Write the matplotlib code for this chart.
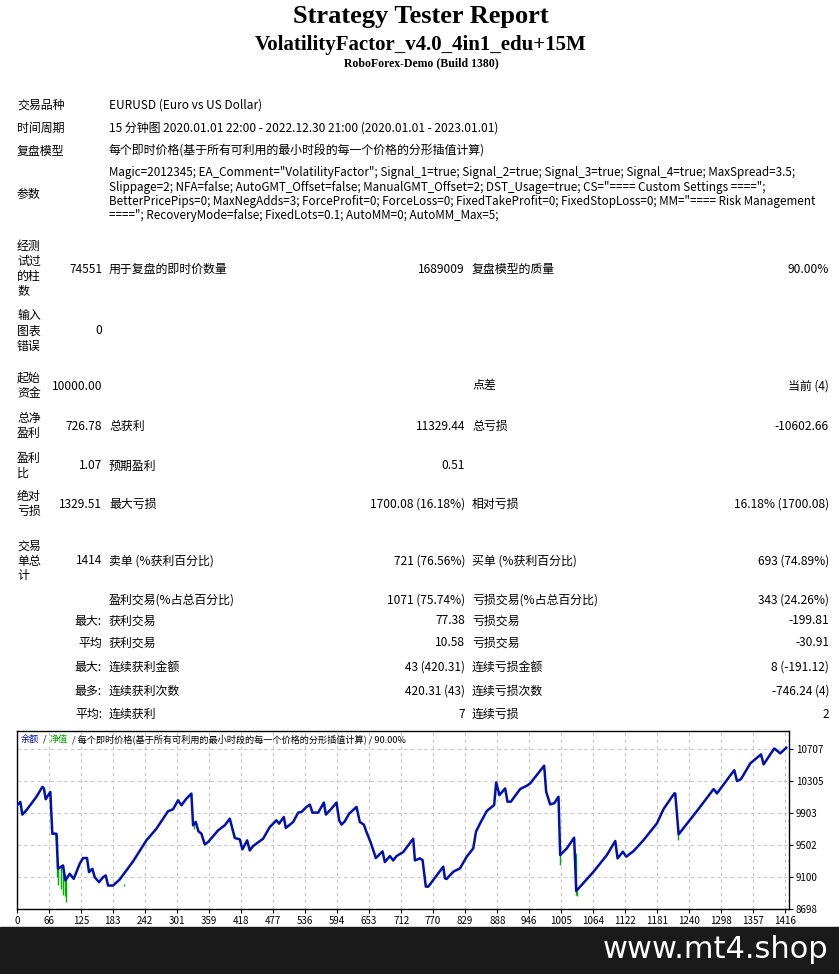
import matplotlib
matplotlib.use("Agg")
import matplotlib.pyplot as plt

CJK = ['Noto Sans CJK SC', 'DejaVu Sans']
plt.rcParams['font.family'] = CJK

# ---------------- data ----------------
trade_x = [7.3, 13.4, 17.1, 24.4, 42.8, 53.8, 56.8, 59.9, 68.4, 72.1, 79.5, 82.5, 91.7, 96, 103.9, 111.3,
           122.3, 128.4, 135.7, 139.4, 145.5, 149.8, 157.7, 165.1, 170, 174.3, 183.4, 195.7, 220.1, 244.6,
           263, 284.3, 293.5, 302.7, 308.8, 318, 327.1, 330.2, 335.1, 340, 345.5, 351.6, 357.7, 376.1,
           388.3, 397.5, 406.7, 415.8, 420.7, 429.3, 434.2, 440.3, 458.6, 470.9, 483.1, 488, 496.6, 500.2,
           513.7, 522.9, 529, 538.2, 544.3, 549.2, 559.6, 570, 573.7, 584, 593.2, 598.1, 602.4, 608.5,
           616.4, 629.9, 636, 643.3, 648.2, 655.6, 665.4, 677.6, 681.9, 691.1, 697.2, 703.3, 715.5, 733.9,
           737, 746.1, 751, 757, 761.5, 770.6, 789, 792, 795, 807.5, 819.7, 832, 844, 849, 856.6, 868.8,
           882.3, 886, 892, 902.5, 906.8, 912.9, 930, 942.3, 948.4, 974, 977.7, 985, 992.4, 1000.3, 1003.4,
           1015.6, 1029, 1032.8, 1040, 1064.6, 1089, 1104.4, 1108.6, 1118.4, 1124.5, 1138, 1156.3, 1180.8,
           1193, 1212.6, 1214.4, 1220.6, 1254.2, 1284.8, 1290.9, 1322.7, 1327.6, 1335, 1352, 1371.6,
           1376.5, 1396, 1407, 1418]
balance = [10001, 10043, 9884, 9938, 10106, 10232, 10211, 10077, 10169, 9644, 9644, 9203, 9245, 9056, 9140,
           9077, 9266, 9338, 9338, 9161, 9203, 9098, 9035, 9098, 9119, 8993, 8993, 9069, 9296, 9560, 9707,
           9926, 9951, 10064, 10001, 10085, 10148, 9749, 9791, 9674, 9644, 9510, 9539, 9686, 9749, 9833,
           9590, 9573, 9447, 9560, 9434, 9489, 9581, 9728, 9812, 9770, 9854, 9716, 9791, 9909, 9917, 9980,
           10010, 9909, 9909, 10035, 9884, 9959, 10035, 9812, 9758, 9800, 9896, 9980, 9791, 9758, 9665,
           9539, 9338, 9422, 9287, 9363, 9308, 9363, 9413, 9581, 9308, 9334, 9313, 8979, 8979, 9062, 9230,
           9083, 9075, 9167, 9209, 9355, 9460, 9669, 9774, 9929, 10004, 10289, 10129, 10213, 10046, 10046,
           10205, 10247, 10276, 10498, 10171, 10012, 10025, 10109, 9376, 9460, 9594, 8924, 8979, 9167, 9376,
           9552, 9334, 9418, 9355, 9426, 9564, 9774, 9954, 10150, 10150, 9636, 9929, 10205, 10150, 10443,
           10305, 10330, 10527, 10640, 10515, 10715, 10653, 10724]
equity_dip_x = [80, 82, 88, 91, 95, 97, 203, 332, 405, 1003, 1033, 1034, 1220]
equity_dip_low = [9100, 9000, 8950, 8880, 8860, 8780, 8990, 9700, 9600, 9250, 8880, 8860, 9560]
equity_dip_high = [9644, 9203, 9245, 9245, 9120, 9100, 9010, 9749, 9650, 9376, 9400, 8930, 9700]
x_ticks = [0, 66, 125, 183, 242, 301, 359, 418, 477, 536, 594, 653, 712, 770, 829, 888, 946, 1005,
           1064, 1122, 1181, 1240, 1298, 1357, 1416]
y_ticks = [8698, 9100, 9502, 9903, 10305, 10707]

rows_top = [("交易品种", "EURUSD (Euro vs US Dollar)", 105),
            ("时间周期", "15 分钟图 2020.01.01 22:00 - 2022.12.30 21:00 (2020.01.01 - 2023.01.01)", 128),
            ("复盘模型", "每个即时价格(基于所有可利用的最小时段的每一个价格的分形插值计算)", 151)]
params_lines = ['Magic=2012345; EA_Comment="VolatilityFactor"; Signal_1=true; Signal_2=true; Signal_3=true; Signal_4=true; MaxSpread=3.5;',
                'Slippage=2; NFA=false; AutoGMT_Offset=false; ManualGMT_Offset=2; DST_Usage=true; CS="==== Custom Settings ====";',
                'BetterPricePips=0; MaxNegAdds=3; ForceProfit=0; ForceLoss=0; FixedTakeProfit=0; FixedStopLoss=0; MM="==== Risk Management',
                '===="; RecoveryMode=false; FixedLots=0.1; AutoMM=0; AutoMM_Max=5;']

# (y, label1, val1, label2, val2, label3, val3)
stats = [
    (269, "经测\n试过\n的柱\n数", "74551", "用于复盘的即时价数量", "1689009", "复盘模型的质量", "90.00%"),
    (331, "输入\n图表\n错误", "0", "", "", "", ""),
    (386, "起始\n资金", "10000.00", "", "", "点差", "当前 (4)"),
    (426, "总净\n盈利", "726.78", "总获利", "11329.44", "总亏损", "-10602.66"),
    (466, "盈利\n比", "1.07", "预期盈利", "0.51", "", ""),
    (504, "绝对\n亏损", "1329.51", "最大亏损", "1700.08 (16.18%)", "相对亏损", "16.18% (1700.08)"),
    (561, "交易\n单总\n计", "1414", "卖单 (%获利百分比)", "721 (76.56%)", "买单 (%获利百分比)", "693 (74.89%)"),
    (600, "", "", "盈利交易(%占总百分比)", "1071 (75.74%)", "亏损交易(%占总百分比)", "343 (24.26%)"),
    (621, "", "最大:", "获利交易", "77.38", "亏损交易", "-199.81"),
    (643, "", "平均", "获利交易", "10.58", "亏损交易", "-30.91"),
    (667, "", "最大:", "连续获利金额", "43 (420.31)", "连续亏损金额", "8 (-191.12)"),
    (691, "", "最多:", "连续获利次数", "420.31 (43)", "连续亏损次数", "-746.24 (4)"),
    (714, "", "平均:", "连续获利", "7", "连续亏损", "2"),
]

# ---------------- figure ----------------
W, H = 839, 974
fig = plt.figure(figsize=(W / 100, H / 100), dpi=100)
fig.patch.set_facecolor("white")

def T(x, y, s, **kw):
    kw.setdefault("fontsize", 8.6)
    kw.setdefault("va", "center")
    kw.setdefault("family", CJK)
    fig.text(x / W, 1 - y / H, s, **kw)

serif = ['Liberation Serif', 'DejaVu Serif']
T(421, 16, "Strategy Tester Report", fontsize=19, weight="bold", ha="center", family=serif)
T(421, 45, "VolatilityFactor_v4.0_4in1_edu+15M", fontsize=15, weight="bold", ha="center", family=serif)
T(421, 63, "RoboForex-Demo (Build 1380)", fontsize=8.5, weight="bold", ha="center", family=serif)

for lab, val, y in rows_top:
    T(17, y, lab)
    T(109, y, val)
T(17, 194, "参数")
for i, line in enumerate(params_lines):
    T(109, 173 + 14 * i, line, fontsize=8.4)

for y, l1, v1, l2, v2, l3, v3 in stats:
    if l1:
        T(17, y, l1, linespacing=1.2, multialignment="left")
    if v1:
        T(102, y, v1, ha="right")
    if l2:
        T(109, y, l2)
    if v2:
        T(465, y, v2, ha="right")
    if l3:
        T(472, y, l3)
    if v3:
        T(829, y, v3, ha="right")

# ---------------- chart ----------------
ax = fig.add_axes([17 / W, (H - 909) / H, (789 - 17) / W, 178 / H])
ax.vlines(equity_dip_x, equity_dip_low, equity_dip_high, color="#00b000", lw=1, zorder=2)
ax.plot(trade_x, balance, color="#0010b0", lw=1.8, zorder=3)
ax.set_xlim(7.3, 1423)
ax.set_ylim(8698, 10934)
tick_pos = [7.3] + x_ticks[1:]
ax.set_xticks(tick_pos)
ax.set_xticklabels([str(t) for t in x_ticks])
ax.set_yticks(y_ticks)
ax.yaxis.tick_right()
ax.tick_params(labelsize=7, length=3, pad=2, colors="black")
ax.grid(True, ls=(0, (3, 3)), color="#c8c8c8", lw=0.8)
for s in ax.spines.values():
    s.set_linewidth(1)
fs = 6.6
ax.text(0.005, 0.955, "余额", color="#0010b0", fontsize=fs, transform=ax.transAxes, va="center", family=CJK)
ax.text(0.034, 0.955, "/", color="black", fontsize=fs, transform=ax.transAxes, va="center")
ax.text(0.042, 0.955, "净值", color="#00a000", fontsize=fs, transform=ax.transAxes, va="center", family=CJK)
ax.text(0.071, 0.955, "/ 每个即时价格(基于所有可利用的最小时段的每一个价格的分形插值计算) / 90.00%",
        color="black", fontsize=fs, transform=ax.transAxes, va="center", family=CJK)

# ---------------- footer ----------------
fig.patches.append(matplotlib.patches.Rectangle((0, 0), 1, (H - 927) / H, transform=fig.transFigure,
                                                color="#1a1a1a", zorder=0))
T(828, 950, "www.mt4.shop", fontsize=22, color="white", ha="right", family=['DejaVu Sans'])

fig.savefig("out.png", dpi=100)
